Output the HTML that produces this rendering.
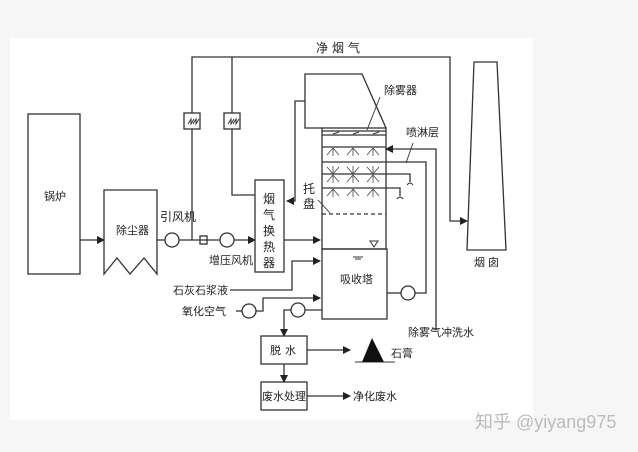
<!DOCTYPE html>
<html><head><meta charset="utf-8"><style>
body{margin:0;background:#f6f6f6;}
svg{display:block;font-family:"Liberation Sans","Noto Sans CJK SC",sans-serif;}
</style></head><body>
<svg width="638" height="452" viewBox="0 0 638 452" xmlns="http://www.w3.org/2000/svg">
<defs>
<marker id="a" markerWidth="8" markerHeight="8" refX="7" refY="4" orient="auto" markerUnits="userSpaceOnUse"><path d="M0,0 L8,4 L0,8 z" fill="#222"/></marker>
<g id="noz" stroke="#444" stroke-width="0.8" fill="none"><path d="M0,0 L-6,7 M0,0 L0,8 M0,0 L6,7"/></g>
<g id="nozu" stroke="#444" stroke-width="0.8" fill="none"><path d="M0,0 L-6,-7 M0,0 L0,-8 M0,0 L6,-7"/></g>
</defs>
<rect x="10" y="38" width="523" height="382" fill="#fff"/>
<g stroke="#333" stroke-width="1.3" fill="none">
<!-- boiler -->
<rect x="28" y="114" width="52" height="160"/>
<line x1="80" y1="240" x2="104" y2="240" marker-end="url(#a)"/>
<!-- dust collector -->
<path d="M104,274 L104,190 L157,190 L157,274 L144,258 L130,274 L117,258 Z"/>
<line x1="157" y1="240" x2="165" y2="240"/>
<circle cx="172" cy="240" r="7"/>
<line x1="179" y1="240" x2="220" y2="240"/>
<rect x="200" y="236" width="7" height="8"/>
<circle cx="227" cy="240" r="7"/>
<line x1="234" y1="240" x2="255" y2="240" marker-end="url(#a)"/>
<!-- top clean gas lines -->
<path d="M192,240 L192,57 L450,57 L450,221 L467,221" marker-end="url(#a)"/>
<path d="M232,57 L232,195 L255,195"/>
<rect x="184" y="113" width="16" height="16" fill="#fff"/>
<rect x="224" y="113" width="16" height="16" fill="#fff"/>
<!-- heat exchanger -->
<rect x="255" y="180" width="29" height="92"/>
<line x1="284" y1="240" x2="320" y2="240" marker-end="url(#a)"/>
<!-- chimney -->
<path d="M474,62 L497,62 L506,250 L467,250 Z"/>
<!-- absorber hood -->
<path d="M322,128 L305,128 L305,74 L362,74 L386,128"/>
<path d="M305,101 L295,101 L295,201 L287,201" marker-end="url(#a)"/>
<!-- tower -->
<rect x="322" y="128" width="64" height="121"/>
<rect x="322" y="249" width="65" height="70"/>
<line x1="322" y1="131" x2="386" y2="131"/>
<line x1="322" y1="135" x2="386" y2="135"/>
<line x1="322" y1="147" x2="386" y2="147"/>
<line x1="322" y1="162" x2="386" y2="162"/>
<line x1="322" y1="174" x2="386" y2="174"/>
<line x1="322" y1="188" x2="386" y2="188"/>
<line x1="322" y1="214" x2="386" y2="214" stroke-dasharray="4,3"/>
<!-- spray piping -->
<path d="M436,330 L436,149 L386,149" marker-end="url(#a)"/>
<path d="M386,162 L426,162 L426,293 L415,293"/>
<circle cx="408" cy="293" r="7"/>
<line x1="387" y1="293" x2="401" y2="293"/>
<path d="M386,174 L410,174 L410,182"/>
<path d="M386,188 L400,188 L400,196"/>
<!-- leaders -->
<line x1="380" y1="97" x2="367" y2="130" stroke-width="0.9"/>
<line x1="413" y1="143" x2="406" y2="163" stroke-width="0.9"/>
<line x1="318" y1="200" x2="330" y2="213" stroke-width="0.9"/>
<!-- inputs -->
<path d="M230,290 L292,290 L292,261 L320,261" marker-end="url(#a)"/>
<path d="M236,311 L242,311"/>
<circle cx="249" cy="311" r="7"/>
<path d="M256,311 L263,311 L263,298 L320,298" marker-end="url(#a)"/>
<path d="M322,310 L305,310"/>
<circle cx="298" cy="310" r="7"/>
<path d="M291,310 L284,310 L284,336" marker-end="url(#a)"/>
<rect x="261" y="336" width="46" height="28"/>
<line x1="307" y1="350" x2="350" y2="350" marker-end="url(#a)"/>
<line x1="284" y1="364" x2="284" y2="382" marker-end="url(#a)"/>
<rect x="261" y="382" width="46" height="28"/>
<line x1="307" y1="396" x2="350" y2="396" marker-end="url(#a)"/>
<line x1="355" y1="362" x2="395" y2="362" stroke-width="1"/>
</g>
<path d="M362,362 L372,338 L384,362 Z" fill="#111"/>
<!-- small symbols -->
<g stroke="#333" stroke-width="1" fill="none">
<path d="M188,124 l3,-5 l0,5 l3,-5 M193,124 l3,-5 l0,5 l3,-5"/>
<path d="M228,124 l3,-5 l0,5 l3,-5 M233,124 l3,-5 l0,5 l3,-5"/>
<path d="M407,185 q3,-4 6,0"/><path d="M397,199 q3,-4 6,0"/>
<path d="M370,241 L378,241 L374,247 Z"/>
<path d="M353,257 L363,257 M355,259 L361,259"/>
<path d="M333,134 l6,-2 M353,134 l6,-2 M373,134 l6,-2"/>
</g>
<use href="#noz" x="333" y="148"/><use href="#noz" x="353" y="148"/><use href="#noz" x="373" y="148"/>
<use href="#nozu" x="333" y="174"/><use href="#nozu" x="353" y="174"/><use href="#nozu" x="373" y="174"/>
<use href="#noz" x="333" y="175"/><use href="#noz" x="353" y="175"/><use href="#noz" x="373" y="175"/>
<use href="#noz" x="333" y="189"/><use href="#noz" x="353" y="189"/><use href="#noz" x="373" y="189"/>
<g font-size="11" fill="#222">
<text x="44" y="200">锅炉</text>
<text x="116" y="234">除尘器</text>
<text x="160" y="221" font-size="12">引风机</text>
<text x="209" y="264">增压风机</text>
<text x="263" y="203" font-size="12">烟</text><text x="263" y="219" font-size="12">气</text><text x="263" y="235" font-size="12">换</text><text x="263" y="251" font-size="12">热</text><text x="263" y="267" font-size="12">器</text>
<text x="316" y="52" font-size="12" letter-spacing="4">净烟气</text>
<text x="384" y="94">除雾器</text>
<text x="406" y="136">喷淋层</text>
<text x="303" y="193" font-size="12">托</text><text x="303" y="208" font-size="12">盘</text>
<text x="340" y="283">吸收塔</text>
<text x="173" y="294">石灰石浆液</text>
<text x="182" y="315">氧化空气</text>
<text x="270" y="354" letter-spacing="4">脱水</text>
<text x="391" y="357">石膏</text>
<text x="262" y="400">废水处理</text>
<text x="353" y="400">净化废水</text>
<text x="408" y="336">除雾气冲洗水</text>
<text x="474" y="266" letter-spacing="3">烟囱</text>
</g>
<text x="475" y="428" font-size="18" fill="#bbb">知乎 @yiyang975</text>
</svg>
</body></html>
